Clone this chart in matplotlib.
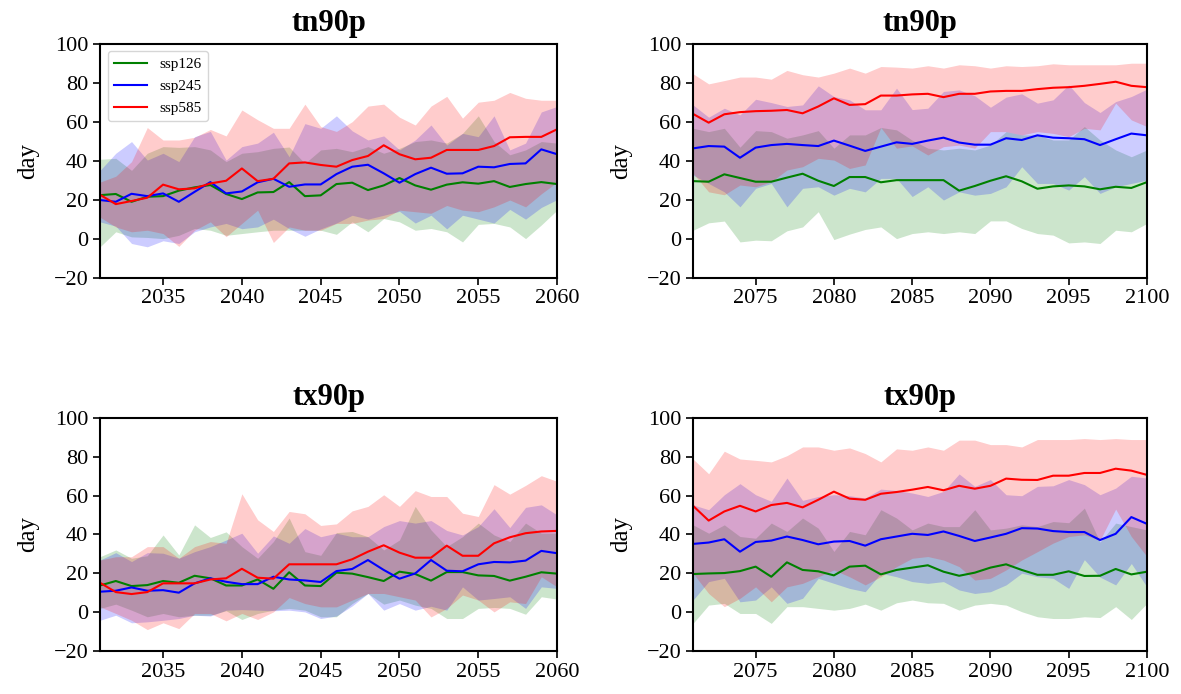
import matplotlib.pyplot as plt
import numpy as np

plt.rcParams['font.family'] = ['Liberation Serif', 'DejaVu Serif']

years_near = np.arange(2031, 2061)
years_far = np.arange(2071, 2101)
scenarios = ['ssp126', 'ssp245', 'ssp585']
colors = ['green', 'blue', 'red']

# tn90p, 2031-2060
tn_n_126 = [22.3, 22.9, 18.9, 21.5, 21.8, 24.6, 26.3, 27.5, 22.9, 20.3, 23.7, 23.9, 29.0, 21.8, 22.2,
            28.0, 28.7, 24.9, 27.3, 31.1, 27.3, 25.1, 27.7, 28.9, 28.2, 29.5, 26.5, 28.0, 29.0, 28.0]
tn_n_245 = [19.8, 18.9, 23.0, 21.8, 23.2, 18.9, 24.0, 29.0, 23.2, 24.2, 28.9, 30.7, 26.6, 27.8, 27.8,
            33.1, 36.9, 37.9, 33.5, 28.7, 33.1, 36.4, 33.3, 33.5, 36.9, 36.6, 38.3, 38.6, 45.8, 43.3]
tn_n_585 = [22.5, 17.7, 19.3, 21.0, 27.7, 25.3, 25.8, 28.3, 29.7, 36.0, 29.5, 30.7, 38.6, 39.1, 37.8,
            36.9, 40.3, 42.4, 47.9, 43.3, 40.7, 41.5, 45.5, 45.5, 45.5, 47.5, 52.0, 52.2, 52.2, 56.1]
tn_n_126_lo = [-4.2, 3.5, 0.9, 0.6, 0.0, 1.7, 5.2, 4.3, 1.7, 2.6, 3.5, 4.3, 4.3, 4.3, 4.3,
               2.2, 8.6, 3.5, 10.3, 8.6, 4.3, 5.2, 3.5, -1.7, 7.3, 7.8, 6.0, 0.0, 7.0, 14.6]
tn_n_126_hi = [40.7, 41.2, 35.0, 43.8, 47.2, 46.8, 47.2, 45.5, 39.5, 43.8, 44.6, 46.3, 47.0, 38.6, 45.5,
               46.3, 44.6, 47.2, 43.8, 46.3, 49.8, 50.6, 49.0, 54.0, 63.0, 49.8, 43.0, 45.5, 49.8, 49.0]
tn_n_245_lo = [8.6, 6.4, -2.5, -4.2, -1.1, -2.5, 3.5, 6.0, 7.8, 5.1, 6.0, 10.0, 5.1, 1.2, 5.0,
               8.0, 12.0, 10.0, 12.0, 14.0, 8.0, 12.0, 5.0, 12.0, 10.0, 8.0, 15.0, 10.0, 16.0, 20.0]
tn_n_245_hi = [35.0, 43.8, 49.8, 40.3, 43.8, 39.5, 52.3, 55.0, 40.3, 47.2, 49.0, 54.6, 42.0, 59.0, 56.6,
               63.0, 55.3, 50.6, 52.7, 45.5, 50.6, 58.3, 48.0, 54.0, 52.3, 63.0, 45.5, 49.0, 65.0, 67.8]
tn_n_585_lo = [11.0, 6.0, 3.5, 4.3, 2.6, -4.0, 4.3, 8.6, 1.0, 7.8, 14.6, -2.0, 6.0, 4.3, 4.3,
               7.8, 7.8, 9.5, 10.3, 14.6, 13.8, 13.0, 17.0, 14.6, 13.8, 16.3, 19.8, 16.3, 23.0, 29.0]
tn_n_585_hi = [29.0, 32.0, 39.5, 57.0, 50.6, 50.6, 52.0, 56.0, 52.7, 66.0, 61.0, 56.6, 56.6, 69.0, 57.5,
               55.0, 60.0, 68.0, 69.0, 62.3, 58.3, 68.0, 73.0, 61.8, 70.0, 71.0, 75.0, 72.0, 71.0, 71.0]

# tn90p, 2071-2100
tn_f_126 = [29.5, 29.2, 33.0, 31.1, 29.2, 29.2, 31.3, 33.3, 29.7, 27.0, 31.6, 31.6, 28.9, 30.0, 30.0,
            30.0, 30.0, 24.6, 27.0, 29.7, 32.0, 29.4, 25.6, 26.8, 27.3, 26.8, 25.3, 26.6, 26.0, 29.0]
tn_f_245 = [46.3, 47.5, 47.2, 41.5, 46.7, 48.0, 48.6, 48.0, 47.5, 50.3, 47.7, 45.0, 47.2, 49.4, 48.6,
            50.3, 51.8, 49.3, 48.2, 48.2, 51.5, 50.6, 53.0, 51.8, 51.5, 51.0, 48.0, 51.0, 53.9, 53.0]
tn_f_585 = [64.0, 59.5, 63.8, 64.9, 65.4, 65.6, 66.0, 64.3, 67.8, 72.0, 68.6, 69.0, 73.4, 73.4, 74.0,
            74.3, 72.6, 74.3, 74.3, 75.5, 75.8, 75.8, 76.7, 77.4, 77.7, 78.4, 79.4, 80.5, 78.4, 77.7]
tn_f_126_lo = [4.3, 8.1, 9.0, -1.7, -0.8, -1.1, 4.0, 6.0, 13.8, -0.5, 2.3, 4.7, 6.0, 0.0, 2.6,
               3.5, 2.6, 3.5, 2.6, 9.1, 9.1, 5.2, 2.6, 1.8, -2.2, -1.7, -2.5, 4.3, 3.5, 7.8]
tn_f_126_hi = [56.6, 54.9, 56.6, 46.9, 55.4, 54.9, 51.5, 53.2, 55.4, 46.4, 53.2, 53.2, 57.0, 55.8, 50.5,
               46.4, 45.5, 46.4, 45.5, 48.0, 54.9, 53.2, 53.2, 50.6, 50.6, 57.5, 50.6, 45.5, 42.0, 45.5]
tn_f_245_lo = [32.6, 28.3, 24.0, 16.3, 25.8, 28.3, 16.3, 25.8, 26.6, 22.3, 25.8, 24.0, 30.9, 30.9, 21.6,
               26.6, 19.8, 24.0, 22.3, 23.2, 26.6, 36.9, 28.3, 28.3, 24.9, 31.8, 23.2, 26.6, 28.3, 30.0]
tn_f_245_hi = [68.6, 62.3, 66.9, 63.5, 71.5, 69.8, 67.8, 68.6, 78.4, 72.9, 71.2, 66.1, 66.1, 77.2, 66.2,
               66.9, 75.5, 76.3, 73.3, 67.4, 72.6, 74.3, 69.5, 71.2, 78.9, 69.8, 64.7, 70.3, 72.9, 76.7]
tn_f_585_lo = [33.5, 24.0, 22.5, 27.5, 26.6, 29.2, 35.2, 36.9, 41.2, 40.3, 36.0, 37.8, 57.0, 46.4, 47.6,
               42.9, 47.2, 48.0, 46.4, 54.9, 54.9, 53.2, 54.9, 54.0, 52.3, 56.6, 55.8, 69.5, 60.9, 57.5]
tn_f_585_hi = [84.6, 79.4, 81.1, 82.9, 82.9, 81.8, 86.3, 84.1, 82.9, 84.9, 87.5, 84.9, 88.3, 88.0, 87.5,
               88.7, 87.5, 89.2, 88.7, 87.5, 88.7, 88.3, 88.7, 89.7, 89.2, 89.2, 89.2, 89.2, 90.0, 90.0]

# tx90p, 2031-2060
tx_n_126 = [13.7, 16.0, 13.4, 13.9, 16.0, 15.1, 18.7, 17.4, 13.7, 13.7, 16.8, 12.0, 20.5, 13.7, 13.4,
            20.3, 19.8, 18.0, 16.0, 20.8, 19.6, 16.2, 20.6, 20.6, 18.9, 18.6, 16.2, 18.2, 20.5, 19.8]
tx_n_245 = [10.5, 11.0, 12.7, 11.0, 11.3, 10.0, 14.8, 17.4, 15.6, 14.4, 14.4, 18.2, 16.8, 16.3, 15.5,
            21.1, 22.2, 26.8, 21.7, 17.2, 19.9, 26.8, 21.3, 21.0, 24.6, 25.8, 25.6, 26.5, 31.5, 30.3]
tx_n_585 = [15.1, 10.3, 9.3, 10.3, 14.8, 14.8, 14.8, 16.8, 17.4, 22.3, 17.7, 17.2, 24.6, 24.6, 24.6,
            24.6, 27.2, 31.1, 34.4, 30.6, 28.0, 28.0, 34.2, 29.0, 29.0, 35.4, 38.5, 40.6, 41.5, 41.8]
tx_n_126_lo = [1.9, 4.1, 1.0, -2.4, -0.7, -2.4, -1.6, -1.6, 0.7, -3.8, -0.7, 1.0, 1.9, 1.0, -2.4,
               -2.4, 4.4, 9.6, 4.1, 6.2, 3.6, 1.9, -3.3, -3.3, 1.9, 2.4, 1.9, -1.1, 7.9, 6.7]
tx_n_126_hi = [28.5, 32.0, 27.7, 29.0, 39.7, 29.4, 44.9, 38.4, 41.3, 33.7, 27.7, 36.3, 48.4, 31.1, 29.2,
               40.9, 41.5, 38.8, 32.0, 37.1, 54.4, 42.3, 33.7, 38.8, 45.8, 39.7, 36.3, 45.8, 40.6, 40.6]
tx_n_245_lo = [-4.2, -1.6, -5.5, -5.0, -4.2, -3.3, -1.6, -2.0, 1.0, 1.3, 1.0, 0.7, 1.0, 0.1, -3.3,
               -2.0, 3.2, 9.6, 1.0, 4.4, 1.0, 3.0, 1.0, 13.0, 6.2, 7.0, 7.9, 1.9, 13.0, 12.2]
tx_n_245_hi = [26.8, 30.6, 26.0, 30.6, 30.3, 27.7, 31.1, 33.7, 37.1, 40.6, 30.3, 39.2, 35.4, 43.0, 38.8,
               40.6, 38.8, 38.8, 44.0, 47.1, 45.8, 47.1, 42.0, 39.7, 44.0, 53.2, 43.5, 53.9, 55.2, 50.0]
tx_n_585_lo = [2.7, -0.7, -4.2, -9.0, -5.5, -8.5, -0.7, -0.7, -4.5, -0.7, -3.8, 0.1, 7.5, 4.4, 2.7,
               2.7, 6.2, 9.6, 9.6, 7.9, 6.2, -2.5, 1.9, 8.8, 6.2, 0.1, 5.3, 4.4, 18.2, 13.0]
tx_n_585_hi = [26.8, 28.5, 28.5, 33.7, 33.7, 27.7, 33.7, 36.3, 35.4, 60.9, 47.5, 41.5, 51.8, 50.6, 44.6,
               45.4, 52.1, 54.4, 60.4, 54.4, 62.5, 59.5, 59.5, 50.9, 49.2, 65.6, 60.7, 65.2, 70.2, 67.3]

# tx90p, 2071-2100
tx_f_126 = [19.6, 19.9, 20.1, 21.1, 23.4, 18.2, 25.6, 21.7, 21.0, 18.9, 23.4, 23.9, 19.4, 21.7, 22.9,
            24.1, 20.8, 18.7, 20.3, 22.9, 24.6, 21.7, 19.2, 19.2, 21.0, 18.6, 18.7, 22.2, 19.4, 20.8]
tx_f_245 = [35.1, 35.8, 37.5, 31.1, 36.1, 36.8, 38.9, 37.1, 34.9, 36.3, 36.6, 34.2, 37.5, 38.9, 40.3,
            39.7, 41.5, 39.2, 36.6, 38.4, 40.3, 43.2, 43.0, 41.7, 41.2, 41.2, 37.1, 40.3, 48.9, 45.4]
tx_f_585 = [54.7, 47.1, 51.8, 54.7, 51.8, 55.1, 56.2, 53.9, 57.8, 62.0, 58.4, 57.8, 60.9, 61.8, 63.0,
            64.4, 62.7, 65.0, 63.5, 65.0, 68.7, 68.1, 68.0, 70.2, 70.2, 71.6, 71.6, 73.8, 72.8, 70.6]
tx_f_126_lo = [-5.8, 3.6, 4.5, -0.7, -0.7, -5.8, 2.8, 2.8, 1.9, 1.0, 1.9, 4.1, 1.0, 4.8, 6.2,
               4.8, 4.5, 1.0, 3.6, 4.5, 3.6, 0.2, -2.4, -3.3, -3.3, -2.4, -2.8, 2.8, -3.8, 4.5]
tx_f_126_hi = [44.9, 40.6, 44.9, 38.9, 38.0, 45.8, 41.5, 48.4, 43.2, 31.2, 41.5, 39.8, 52.7, 48.4, 42.3,
               45.8, 44.0, 44.0, 52.7, 42.3, 43.2, 44.9, 44.0, 46.6, 46.0, 53.5, 36.0, 45.8, 44.0, 42.3]
tx_f_245_lo = [6.2, 15.7, 17.4, 5.3, 6.2, 13.0, 4.5, 7.1, 17.4, 14.8, 12.2, 10.5, 20.0, 18.2, 15.7,
               14.8, 15.7, 11.4, 9.6, 10.5, 14.0, 20.0, 18.2, 17.4, 12.2, 27.0, 18.0, 14.0, 25.0, 13.0]
tx_f_245_hi = [55.2, 52.7, 60.4, 66.1, 60.4, 57.0, 69.0, 57.5, 59.5, 60.4, 59.9, 58.7, 63.3, 62.6, 61.3,
               59.5, 62.1, 71.1, 64.7, 68.2, 60.4, 59.9, 64.7, 65.0, 68.2, 65.6, 60.4, 63.8, 69.9, 69.0]
tx_f_585_lo = [20.0, 9.6, 2.8, 7.1, 13.0, 5.3, 13.0, 14.8, 18.2, 21.7, 18.2, 14.0, 18.2, 23.4, 27.7,
               28.6, 26.8, 23.4, 16.5, 17.4, 21.7, 26.8, 31.1, 35.5, 38.9, 39.8, 37.0, 53.0, 38.9, 28.6]
tx_f_585_hi = [78.8, 71.2, 82.8, 78.8, 78.1, 77.3, 80.5, 85.0, 85.0, 83.3, 84.5, 81.6, 77.3, 84.0, 83.3,
               85.0, 83.3, 88.5, 88.5, 86.2, 86.2, 85.0, 88.8, 88.8, 88.8, 89.3, 88.8, 89.3, 88.8, 88.8]


def plot_panel(ax, years, means, lows, highs, title, legend=False):
    """
    One index panel: mean line plus shaded range for each scenario
    """
    for lo, hi, c in zip(lows, highs, colors):
        ax.fill_between(years, lo, hi, color=c, alpha=0.2, linewidth=0)
    for m, c, name in zip(means, colors, scenarios):
        ax.plot(years, m, color=c, linewidth=1.5, label=name)
    ax.set_xlim(years[0], years[-1])
    ax.set_ylim(-20, 100)
    ax.set_yticks(np.arange(-20, 101, 20))
    ax.set_xticks(np.arange(years[0] + 4, years[-1] + 1, 5))
    ax.set_title(title, fontsize=22, fontweight='bold', pad=9)
    ax.set_ylabel('day', fontsize=18, labelpad=10)
    ax.tick_params(labelsize=16, length=5, width=1.2)
    for s in ax.spines.values():
        s.set_linewidth(1.5)
    if legend:
        ax.legend(loc='upper left', fontsize=11, handlelength=2.2, labelspacing=0.55)


fig = plt.figure(figsize=(11.81, 6.94), dpi=100)
ax1 = fig.add_axes([0.0847, 0.600, 0.387, 0.337])
ax2 = fig.add_axes([0.5868, 0.600, 0.3844, 0.337])
ax3 = fig.add_axes([0.0847, 0.062, 0.387, 0.336])
ax4 = fig.add_axes([0.5868, 0.062, 0.3844, 0.336])

plot_panel(ax1, years_near, [tn_n_126, tn_n_245, tn_n_585],
           [tn_n_126_lo, tn_n_245_lo, tn_n_585_lo],
           [tn_n_126_hi, tn_n_245_hi, tn_n_585_hi], 'tn90p', legend=True)
plot_panel(ax2, years_far, [tn_f_126, tn_f_245, tn_f_585],
           [tn_f_126_lo, tn_f_245_lo, tn_f_585_lo],
           [tn_f_126_hi, tn_f_245_hi, tn_f_585_hi], 'tn90p')
plot_panel(ax3, years_near, [tx_n_126, tx_n_245, tx_n_585],
           [tx_n_126_lo, tx_n_245_lo, tx_n_585_lo],
           [tx_n_126_hi, tx_n_245_hi, tx_n_585_hi], 'tx90p')
plot_panel(ax4, years_far, [tx_f_126, tx_f_245, tx_f_585],
           [tx_f_126_lo, tx_f_245_lo, tx_f_585_lo],
           [tx_f_126_hi, tx_f_245_hi, tx_f_585_hi], 'tx90p')

fig.savefig('out.png', dpi=100)
